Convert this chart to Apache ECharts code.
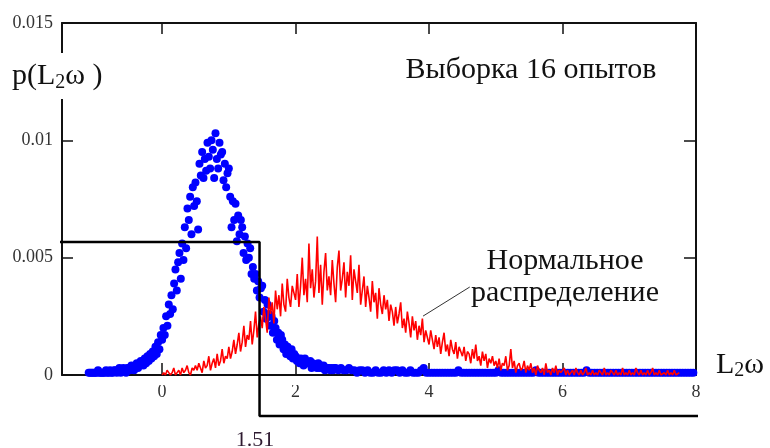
<!DOCTYPE html>
<html><head><meta charset="utf-8">
<script src="https://cdn.jsdelivr.net/npm/echarts@6/dist/echarts.min.js"></script>
<style>html,body{margin:0;padding:0;background:#fff}#c{width:770px;height:448px}</style>
</head><body><div id="c"></div>
<script>
// values are given in units of 1e-4 (p, x10^4)
const UNIT = 1e-4;
const xTickValues = [0, 2, 4, 6, 8];

// red: "Нормальное распределение", x from 0 step 0.025
const redStart = 0, redStep = 0.025;
const redValues = [
 0,1,0,2,1,0,1,3,0,1,2,0,3,1,2,4,1,0,3,2,
 4,2,5,3,1,6,3,4,8,2,5,7,3,9,4,6,11,5,8,7,
 12,7,10,15,9,13,18,10,14,21,12,17,15,23,13,19,27,16,22,25,
 20,29,24,18,33,26,31,22,36,28,34,25,39,30,27,41,33,29,38,35,
 32,43,29,38,50,34,41,31,56,37,45,33,40,59,35,47,30,44,52,36,
 42,34,49,39,31,46,53,36,41,48,33,44,38,51,32,45,40,35,47,30,
 36,42,29,38,33,27,40,31,35,24,37,30,26,34,28,32,23,30,27,21,
 29,22,26,31,20,24,18,27,22,16,25,19,23,15,21,17,24,14,19,16,
 13,19,15,11,17,12,16,9,14,18,10,13,8,15,11,9,14,7,12,10,
 8,12,6,10,9,5,11,7,13,6,8,4,10,6,9,3,7,5,8,4,
 6,3,7,2,5,4,8,2,4,11,3,6,1,4,5,2,3,6,1,4,
 2,5,1,3,0,4,2,1,3,0,5,1,2,0,3,1,4,0,2,1,
 1,3,0,2,0,1,2,0,3,1,0,2,0,1,3,0,1,0,2,0,
 1,0,2,1,0,3,0,1,0,2,1,0,2,0,1,0,3,0,1,0,
 2,0,1,0,3,1,0,2,0,1,0,2,0,1,3,0,1,0,2,0,
 0,1,0,2,0,1,0,2,0,0,1
];

// blue: sample of 16 experiments, x from -1.1 step 0.02
const blueStart = -1.1, blueStep = 0.02;
const blueValues = [
 1,1,1,1,1, 1,1,2,1,1, 1,1,1,2,1, 1,2,1,1,2, 2,1,2,3,1,
 2,3,2,1,3, 3,2,4,3,2, 3,5,3,4,6, 5,4,7,5,8, 6,9,7,10,8,
 12,9,14,11,17, 15,20,17,25,21, 30,26,34,28,39, 45,36,48,52,41,
 56,49,63,54,71, 66,76,60,80,72, 82,74,62,90,85, 95,84,92,87,99,
 93,88,100,96,84, 103,92,88,99,94, 95,83,90,80,86, 88,76,63,74,66,
 73,57,68,60,66, 63,52,59,49,56, 50,54,43,46,41, 43,36,40,33,37,
 38,27,32,24,30, 26,21,25,18,23, 20,15,18,13,17, 15,11,13,9,12,
 10,8,11,7,9, 8,6,7,5,7, 6,4,7,5,5, 5,6,3,5,4, 4,3,5,3,4,
 3,4,2,3,3, 3,2,3,2,3
];
// blue tail, x from 2.6 step 0.04
const blueTailStart = 2.6, blueTailStep = 0.04;
const blueTailValues = [
 3,2,3,2,2,3,2,2,1,2,
 2,1,2,1,1,2,1,1,2,1,
 2,1,2,2,1,2,1,1,2,1,
 1,1,2,3,1,1,1,1,1,1,
 1,1,1,1,1,1,2,1,1,1,
 1,1,1,1,1,1,1,1,1,1,
 1,2,1,1,1,1,1,1,1,1,
 1,1,1,1,1,2,1,1,1,1,
 1,1,1,1,1,1,1,1,1,1,
 1,1,1,1,2,1,1,1,1,1,
 1,1,1,1,1,1,1,1,1,1,
 1,1,1,1,1,1,1,1,1,1,
 1,1,1,1,1,1,1,1,1,1,
 1,1,1,1,1
];

// threshold marker
const thresholdX = 1.46, thresholdText = '1.51';
const stepLeftX = -1.76, stepLevelY = 0.00567, stepBottomY = -0.00175, stepRightX = 8.03;
const pointerLine = [[3.91, 0.00251], [4.61, 0.00375]];

const redData = redValues.map((v, i) => [redStart + i * redStep, v * UNIT]);
const blueData = blueValues.map((v, i) => [blueStart + i * blueStep, v * UNIT])
  .concat(blueTailValues.map((v, i) => [blueTailStart + i * blueTailStep, v * UNIT]));
const stepData = [[stepLeftX, stepLevelY], [thresholdX, stepLevelY], [thresholdX, stepBottomY], [stepRightX, stepBottomY]];

const SERIF = '"Liberation Serif", "DejaVu Serif", serif';
const lineStyleAxis = { color: '#111', width: 2 };

const chart = echarts.init(document.getElementById('c'), null, { renderer: 'canvas' });
chart.setOption({
  animation: false,
  backgroundColor: '#fff',
  grid: { left: 62, right: 74, top: 23, bottom: 73, containLabel: false },
  xAxis: [{
    type: 'value', min: -1.5, max: 8, position: 'bottom',
    axisLine: { show: true, onZero: false, lineStyle: lineStyleAxis },
    axisTick: { show: true, inside: true, length: 12, customValues: xTickValues, lineStyle: { color: '#111', width: 1.5 } },
    axisLabel: { show: true, customValues: xTickValues, margin: 8, fontFamily: SERIF, fontSize: 18, color: '#333' },
    splitLine: { show: false }
  }, {
    type: 'value', min: -1.5, max: 8, position: 'top',
    axisLine: { show: true, onZero: false, lineStyle: lineStyleAxis },
    axisTick: { show: true, inside: true, length: 11, customValues: xTickValues, lineStyle: { color: '#111', width: 1.5 } },
    axisLabel: { show: false },
    splitLine: { show: false }
  }],
  yAxis: [{
    type: 'value', min: 0, max: 0.015, interval: 0.005, position: 'left',
    axisLine: { show: true, onZero: false, lineStyle: lineStyleAxis },
    axisTick: { show: true, inside: true, length: 11, lineStyle: { color: '#111', width: 1.5 } },
    axisLabel: { show: true, margin: 9, fontFamily: SERIF, fontSize: 18, color: '#333' },
    splitLine: { show: false }
  }, {
    type: 'value', min: 0, max: 0.015, interval: 0.005, position: 'right',
    axisLine: { show: true, onZero: false, lineStyle: lineStyleAxis },
    axisTick: { show: true, inside: true, length: 12, lineStyle: { color: '#111', width: 1.5 } },
    axisLabel: { show: false },
    splitLine: { show: false }
  }],
  series: [{
    type: 'scatter', name: 'sample', data: blueData, symbol: 'circle', symbolSize: 8,
    itemStyle: { color: '#0000ff', opacity: 1 }, z: 2, clip: false
  }, {
    type: 'line', name: 'normal', data: redData, showSymbol: false, symbol: 'none',
    lineStyle: { color: '#ff0000', width: 1.6 }, z: 3, clip: true
  }, {
    type: 'line', name: 'threshold', data: stepData, showSymbol: false, symbol: 'none',
    lineStyle: { color: '#000', width: 2.5 }, z: 5, clip: false, silent: true
  }, {
    type: 'line', name: 'pointer', data: pointerLine, showSymbol: false, symbol: 'none',
    lineStyle: { color: '#333', width: 1 }, z: 5, clip: false, silent: true
  }],
  graphic: [
    { type: 'rect', z: 4, silent: true, shape: { x: 55, y: 377, width: 650, height: 8 }, style: { fill: '#fff' } },
    { type: 'text', z: 6, x: 531, y: 70, style: { text: 'Выборка 16 опытов', fontFamily: SERIF, fontSize: 30, fill: '#111', align: 'center', verticalAlign: 'middle' } },
    { type: 'text', z: 6, x: 565, y: 261, style: { text: 'Нормальное', fontFamily: SERIF, fontSize: 30, fill: '#111', align: 'center', verticalAlign: 'middle' } },
    { type: 'text', z: 6, x: 565, y: 293, style: { text: 'распределение', fontFamily: SERIF, fontSize: 30, fill: '#111', align: 'center', verticalAlign: 'middle' } },
    { type: 'text', z: 6, x: 10, y: 76, style: {
        text: '{a|p(L}{s|2}{a|ω )}', fontFamily: SERIF, fill: '#111', align: 'left', verticalAlign: 'middle',
        backgroundColor: '#fff', padding: [6, 2],
        rich: { a: { fontFamily: SERIF, fontSize: 30, lineHeight: 34, color: '#111' },
                s: { fontFamily: SERIF, fontSize: 20, lineHeight: 20, verticalAlign: 'bottom', color: '#111' } } } },
    { type: 'text', z: 6, x: 716, y: 365, style: {
        text: '{a|L}{s|2}{a|ω}', fontFamily: SERIF, fill: '#111', align: 'left', verticalAlign: 'middle',
        rich: { a: { fontFamily: SERIF, fontSize: 30, lineHeight: 32, color: '#111' },
                s: { fontFamily: SERIF, fontSize: 20, lineHeight: 20, verticalAlign: 'bottom', color: '#111' } } } },
    { type: 'text', z: 6, x: 255, y: 440, style: { text: thresholdText, fontFamily: SERIF, fontSize: 22, fill: '#2e1a30', align: 'center', verticalAlign: 'middle' } }
  ]
});
</script>
</body></html>
